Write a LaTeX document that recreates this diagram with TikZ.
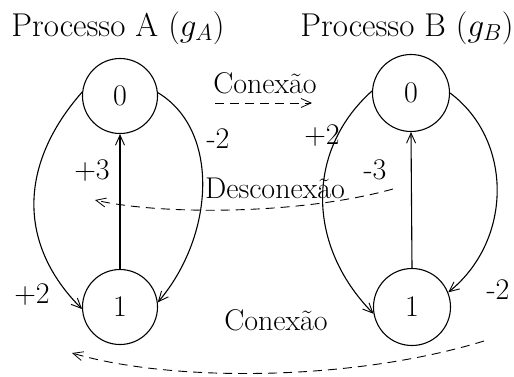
\RequirePackage{fix-cm}
\documentclass[tikz,border=0pt]{standalone}
\usetikzlibrary{arrows.meta}
\begin{document}
\begin{tikzpicture}[x=1pt,y=-1pt,
  every node/.style={font=\fontsize{30}{36}\selectfont},
  title/.style={inner sep=0pt,anchor=base,font=\fontsize{33}{40}\selectfont},
  state/.style={draw,circle,line width=1.1pt,minimum size=75pt,inner sep=0pt},
  lbl/.style={inner sep=0pt},
  edge/.style={line width=1.1pt,-{Straight Barb[length=10pt,width=9pt,line width=0.9pt]}},
  dashedge/.style={line width=0.9pt,dash pattern=on 9pt off 6pt,-{Straight Barb[length=10pt,width=9pt,line width=0.8pt]}}]
\useasboundingbox (0,0) rectangle (514,376);
\node[title] (tA) at (118,36) {Processo A ($g_A$)};
\node[title] (tB) at (407,36) {Processo B ($g_B$)};
\node[state] (A0) at (120,96) {0};
\node[state] (A1) at (120,307) {1};
\node[state,minimum size=77pt] (B0) at (411,93) {0};
\node[state,minimum size=77pt] (B1) at (412,307) {1};
% process A
\draw[edge] (A1.north) -- (A0.south);
\draw[edge] (A0.174) .. controls (18,165) and (18,245) .. (A1.183);
\draw[edge] (A0.5) .. controls (220,130) and (215,235) .. (A1.7);
\node[lbl] (l3A) at (92,171) {+3};
\node[lbl] (lm2A) at (218,139) {-2};
\node[lbl] (lp2A) at (32,295) {+2};
% process B
\draw[edge] (B1.north) -- (B0.south);
\draw[edge] (B0.177) .. controls (306,150) and (306,245) .. (B1.190);
\draw[edge] (B0.0) .. controls (513,140) and (513,240) .. (B1.22);
\node[lbl] (l3B) at (375,170) {-3};
\node[lbl] (lp2B) at (322,136) {+2};
\node[lbl] (lm2B) at (498,290) {-2};
% messages
\node[lbl,anchor=base] (c1) at (265,93) {Conexão};
\coordinate (c1s) at (215,103);
\coordinate (c1e) at (312,103);
\draw[dashedge] (c1s) -- (c1e);
\node[lbl,anchor=base] (d1) at (275,198) {Desconexão};
\coordinate (d1s) at (393,189);
\coordinate (d1e) at (95,200);
\draw[dashedge] (d1s) .. controls (300,215) and (160,215) .. (d1e);
\node[lbl,anchor=base] (c2) at (276,330) {Conexão};
\coordinate (c2s) at (484,341);
\coordinate (c2e) at (72,353);
\draw[dashedge] (c2s) .. controls (350,382) and (170,382) .. (c2e);
\end{tikzpicture}
\end{document}
